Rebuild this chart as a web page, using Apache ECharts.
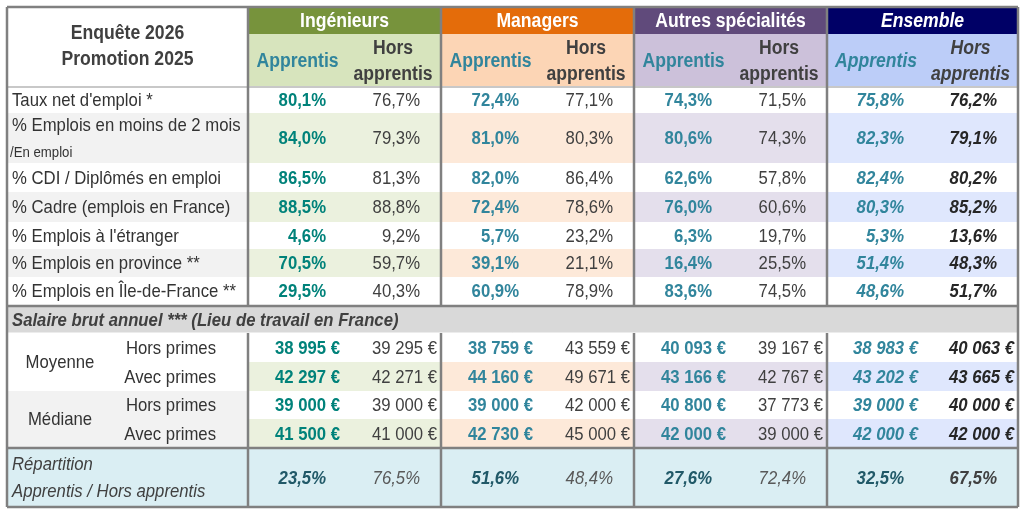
<!DOCTYPE html>
<html>
<head>
<meta charset="utf-8">
<script src="https://cdn.jsdelivr.net/npm/echarts@6/dist/echarts.min.js"></script>
<style>
html, body { margin: 0; padding: 0; background: #fff; }
#chart { width: 1024px; height: 515px; }
</style>
</head>
<body>
<div id="chart"></div>
<script>
// --- data ---
var groups = ['Ingénieurs', 'Managers', 'Autres spécialités', 'Ensemble'];
var subHeaders = ['Apprentis', 'Hors\napprentis'];
var titleLines = ['Enquête 2026', 'Promotion 2025'];

var rowLabels = [
    "Taux net d'emploi *",
    "% Emplois en moins de 2 mois",
    "% CDI / Diplômés en emploi",
    "% Cadre (emplois en France)",
    "% Emplois à l'étranger",
    "% Emplois en province **",
    "% Emplois en Île-de-France **"
];
var subLabel = '/En emploi';

var ingApprentis = [80.1, 84.0, 86.5, 88.5, 4.6, 70.5, 29.5];
var ingHors = [76.7, 79.3, 81.3, 88.8, 9.2, 59.7, 40.3];
var manApprentis = [72.4, 81.0, 82.0, 72.4, 5.7, 39.1, 60.9];
var manHors = [77.1, 80.3, 86.4, 78.6, 23.2, 21.1, 78.9];
var autApprentis = [74.3, 80.6, 62.6, 76.0, 6.3, 16.4, 83.6];
var autHors = [71.5, 74.3, 57.8, 60.6, 19.7, 25.5, 74.5];
var ensApprentis = [75.8, 82.3, 82.4, 80.3, 5.3, 51.4, 48.6];
var ensHors = [76.2, 79.1, 80.2, 85.2, 13.6, 48.3, 51.7];

var salaryTitle = 'Salaire brut annuel *** (Lieu de travail en France)';
var salaryBlocks = ['Moyenne', 'Médiane'];
var salaryKinds = ['Hors primes', 'Avec primes'];
// Moyenne hors, Moyenne avec, Médiane hors, Médiane avec
var ingSalApprentis = [38995, 42297, 39000, 41500];
var ingSalHors = [39295, 42271, 39000, 41000];
var manSalApprentis = [38759, 44160, 39000, 42730];
var manSalHors = [43559, 49671, 42000, 45000];
var autSalApprentis = [40093, 43166, 40800, 42000];
var autSalHors = [39167, 42767, 37773, 39000];
var ensSalApprentis = [38983, 43202, 39000, 42000];
var ensSalHors = [40063, 43665, 40000, 42000];

var repartLabels = ['Répartition', 'Apprentis / Hors apprentis'];
var repartApprentis = [23.5, 51.6, 27.6, 32.5];
var repartHors = [76.5, 48.4, 72.4, 67.5];

// --- layout & style ---
var FONT = '"Liberation Sans", Arial, sans-serif';
var NARROW = 0.88; // squeeze the sans font to look like Arial Narrow
var groupEdges = [248, 441, 634, 827, 1018];
var LEFT = 7, TOP = 7, BOTTOM = 507;
var headY = [7, 34, 87];
var pctRowY = [87, 113, 163, 192, 222, 249, 277, 305];
var salHeadY = [307, 333];
var salRowY = [333, 362, 391, 419, 448];
var repartY = [448, 507];

var headColors = ['#77933c', '#e46c0a', '#604a7b', '#000066'];
var subColors = ['#d7e4bd', '#fcd5b5', '#ccc1da', '#bccdf8'];
var bandColors = ['#ebf1de', '#fde9d9', '#e4dfec', '#dfe7fd'];
var appColors = ['#00827a', '#31859c', '#31859c', '#31859c'];
var LINE = '#808080';
var TEXT = '#333333';

var pctData = [[ingApprentis, ingHors], [manApprentis, manHors], [autApprentis, autHors], [ensApprentis, ensHors]];
var salData = [[ingSalApprentis, ingSalHors], [manSalApprentis, manSalHors], [autSalApprentis, autSalHors], [ensSalApprentis, ensSalHors]];

function fmtPct(v) { return v.toFixed(1).replace('.', ',') + '%'; }
function fmtEur(v) { return String(v).replace(/\B(?=(\d{3})+(?!\d))/g, ' ') + ' €'; }

var items = [];
function rect(x0, y0, x1, y1, fill) { items.push({ kind: 'rect', c: [x0, y0, x1, y1], fill: fill }); }
function line(x0, y0, x1, y1, w, color) { items.push({ kind: 'line', c: [x0, y0, x1, y1], w: w, color: color || LINE }); }
function text(x, y, s, o) { items.push({ kind: 'text', c: [x, y, x, y], s: s, o: o || {} }); }

function colSplit(g) { return Math.round((groupEdges[g] + groupEdges[g + 1]) / 2); }

// backgrounds
rect(LEFT, TOP, 1018, BOTTOM, '#ffffff');
groups.forEach(function (name, g) {
    var x0 = groupEdges[g], x1 = groupEdges[g + 1];
    rect(x0, headY[0], x1, headY[1], headColors[g]);
    rect(x0, headY[1], x1, headY[2], subColors[g]);
    rowLabels.forEach(function (l, r) {
        if (r % 2 === 1) rect(x0, pctRowY[r], x1, pctRowY[r + 1], bandColors[g]);
    });
    [1, 3].forEach(function (r) { rect(x0, salRowY[r], x1, salRowY[r + 1], bandColors[g]); });
});
rowLabels.forEach(function (l, r) {
    if (r % 2 === 1) rect(LEFT, pctRowY[r], groupEdges[0], pctRowY[r + 1], '#f2f2f2');
});
rect(LEFT, salRowY[2], groupEdges[0], salRowY[4], '#f2f2f2');
rect(LEFT, salHeadY[0], 1018, salHeadY[1], '#d9d9d9');
rect(LEFT, repartY[0], 1018, repartY[1], '#daeef3');

// lines
line(LEFT, headY[2], 1018, headY[2], 2, '#c8c8c8');
line(LEFT, pctRowY[7] + 1, 1018, pctRowY[7] + 1, 2.5);
line(LEFT, salHeadY[1], 1018, salHeadY[1], 1, '#ffffff');
line(LEFT, repartY[0], 1018, repartY[0], 2.5);
groupEdges.slice(0, 4).forEach(function (x) {
    line(x, TOP, x, pctRowY[7] + 1, 2.5);
    line(x, salHeadY[1], x, BOTTOM, 2.5);
});
line(LEFT, TOP, 1018, TOP, 2.5);
line(LEFT, BOTTOM, 1018, BOTTOM, 2.5);
line(LEFT, TOP, LEFT, BOTTOM, 2.5);
line(1018, TOP, 1018, BOTTOM, 2.5);

// header texts
text((LEFT + groupEdges[0]) / 2, 33, titleLines[0], { weight: 'bold', size: 20, color: '#404040' });
text((LEFT + groupEdges[0]) / 2, 59, titleLines[1], { weight: 'bold', size: 20, color: '#404040' });
groups.forEach(function (name, g) {
    var italic = g === 3;
    var x0 = groupEdges[g], xm = colSplit(g), x1 = groupEdges[g + 1];
    text((x0 + x1) / 2, 21, name, { weight: 'bold', size: 20, color: '#ffffff', italic: italic });
    text((x0 + xm) / 2 + 1, 61, subHeaders[0], { weight: 'bold', size: 20, color: '#31859c', italic: italic });
    var hl = subHeaders[1].split('\n');
    text((xm + x1) / 2, 48, hl[0], { weight: 'bold', size: 20, color: '#404040', italic: italic });
    text((xm + x1) / 2, 74, hl[1], { weight: 'bold', size: 20, color: '#404040', italic: italic });
});

// percentage rows
rowLabels.forEach(function (label, r) {
    var yc = (pctRowY[r] + pctRowY[r + 1]) / 2 + 1;
    if (r === 1) {
        text(12, pctRowY[r] + 13, label, { align: 'left' });
        text(10, pctRowY[r] + 40, subLabel, { align: 'left', size: 15 });
    } else {
        text(12, yc, label, { align: 'left' });
    }
    pctData.forEach(function (pair, g) {
        var xm = colSplit(g), ens = g === 3;
        text(xm - 19, yc, fmtPct(pair[0][r]), { align: 'right', weight: 'bold', color: appColors[g], italic: ens });
        text(groupEdges[g + 1] - 21, yc, fmtPct(pair[1][r]), { align: 'right', weight: ens ? 'bold' : 'normal', color: ens ? '#262626' : '#404040', italic: ens });
    });
});

// salary rows
text(12, (salHeadY[0] + salHeadY[1]) / 2 + 1, salaryTitle, { align: 'left', weight: 'bold', italic: true, color: '#404040' });
salaryBlocks.forEach(function (b, k) {
    text(60, salRowY[2 * k + 1] + 1, b);
});
salRowY.slice(0, 4).forEach(function (y0, r) {
    var yc = (y0 + salRowY[r + 1]) / 2 + 1;
    text(216, yc, salaryKinds[r % 2], { align: 'right' });
    salData.forEach(function (pair, g) {
        var xm = colSplit(g), ens = g === 3;
        text(xm - 5, yc, fmtEur(pair[0][r]), { align: 'right', weight: 'bold', color: appColors[g], italic: ens });
        text(groupEdges[g + 1] - 4, yc, fmtEur(pair[1][r]), { align: 'right', weight: ens ? 'bold' : 'normal', color: ens ? '#262626' : '#404040', italic: ens });
    });
});

// repartition row
text(12, repartY[0] + 17, repartLabels[0], { align: 'left', italic: true, color: '#404040' });
text(12, repartY[0] + 44, repartLabels[1], { align: 'left', italic: true, color: '#404040' });
repartApprentis.forEach(function (v, g) {
    var xm = colSplit(g), yc = (repartY[0] + repartY[1]) / 2 + 1;
    text(xm - 19, yc, fmtPct(v), { align: 'right', weight: 'bold', italic: true, color: '#215968' });
    text(groupEdges[g + 1] - 21, yc, fmtPct(repartHors[g]), { align: 'right', weight: g === 3 ? 'bold' : 'normal', italic: true, color: g === 3 ? '#404040' : '#595959' });
});

var chart = echarts.init(document.getElementById('chart'));
chart.setOption({
    animation: false,
    grid: { left: 0, right: 0, top: 0, bottom: 0 },
    xAxis: { type: 'value', min: 0, max: 1024, show: false },
    yAxis: { type: 'value', min: 0, max: 515, inverse: true, show: false },
    series: [{
        type: 'custom',
        coordinateSystem: 'cartesian2d',
        clip: false,
        data: items.map(function (it) { return it.c; }),
        renderItem: function (params, api) {
            var it = items[params.dataIndex];
            var p0 = api.coord([api.value(0), api.value(1)]);
            var p1 = api.coord([api.value(2), api.value(3)]);
            if (it.kind === 'rect') {
                return { type: 'rect', shape: { x: p0[0], y: p0[1], width: p1[0] - p0[0], height: p1[1] - p0[1] }, style: { fill: it.fill } };
            }
            if (it.kind === 'line') {
                return { type: 'line', shape: { x1: p0[0], y1: p0[1], x2: p1[0], y2: p1[1] }, style: { stroke: it.color, lineWidth: it.w } };
            }
            var o = it.o;
            return {
                type: 'text', x: p0[0], y: p0[1], scaleX: NARROW,
                style: {
                    text: it.s,
                    fill: o.color || TEXT,
                    fontFamily: FONT,
                    fontSize: o.size || 19,
                    fontWeight: o.weight || 'normal',
                    fontStyle: o.italic ? 'italic' : 'normal',
                    align: o.align || 'center',
                    verticalAlign: 'middle'
                }
            };
        }
    }]
});
</script>
</body>
</html>
